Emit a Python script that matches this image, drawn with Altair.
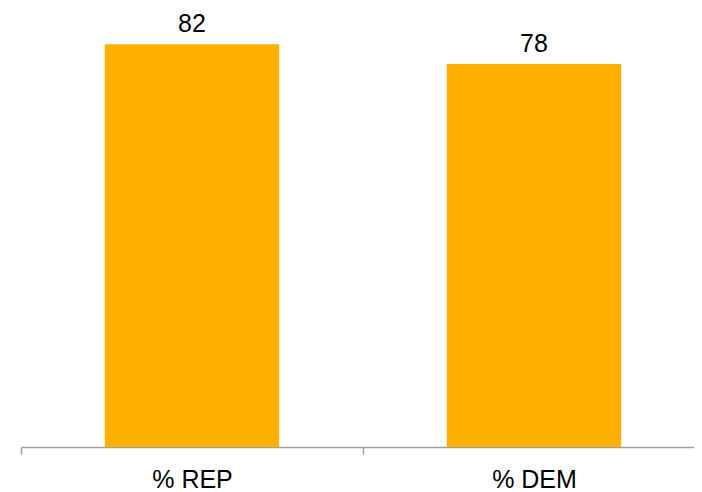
import altair as alt
import pandas as pd

categories = ["% REP", "% DEM"]
values = [82, 78]

df = pd.DataFrame({"party": categories, "value": values})

x = alt.X("party:N", sort=categories, title=None,
          scale=alt.Scale(paddingInner=0, paddingOuter=0, range=[0, 684]),
          axis=alt.Axis(labelAngle=0, labelFont="Liberation Sans", labelFontSize=25,
                        labelColor="#000000", labelBaseline="alphabetic", labelPadding=33,
                        tickBand="extent", tickSize=7, tickColor="#a0a0a0", tickWidth=1.5,
                        domainColor="#a0a0a0", domainWidth=1.5, grid=False))
y = alt.Y("value:Q", title=None, scale=alt.Scale(domain=[0, 89.4], nice=False, zero=True),
          axis=None)

bars = alt.Chart(df).mark_bar(color="#FFB000", width=alt.RelativeBandSize(0.51)).encode(x=x, y=y)
labels = alt.Chart(df).mark_text(font="Liberation Sans", fontSize=25, color="#000000",
                                 baseline="alphabetic", dy=-12).encode(
    x=alt.X("party:N", sort=categories), y=y, text="value:Q")

chart = (bars + labels).properties(
    width=673, height=439,
    autosize=alt.AutoSizeParams(type="none"),
    padding={"left": 13, "top": 0, "right": 0, "bottom": 45},
).configure_view(stroke=None)

chart.save("out.html", embed_options={"renderer": "svg", "actions": False})
